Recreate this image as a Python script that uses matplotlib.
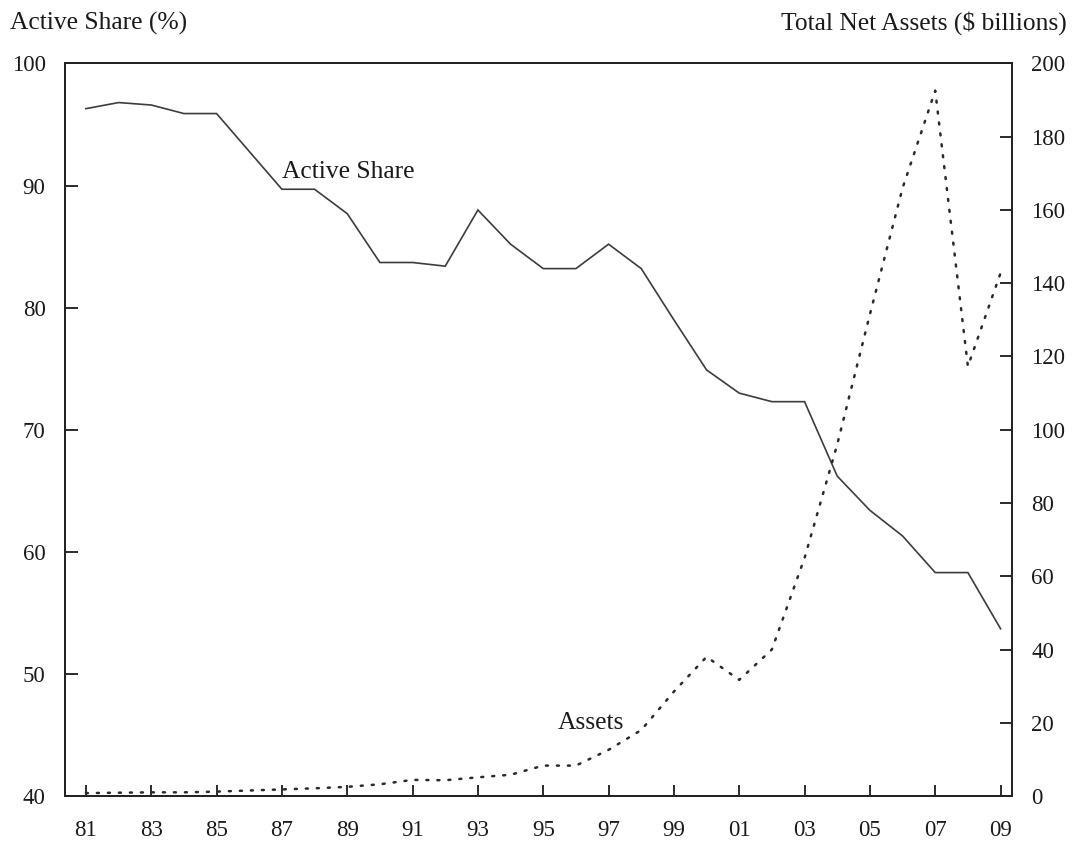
import matplotlib
matplotlib.use("Agg")
import matplotlib.pyplot as plt

plt.rcParams['font.family'] = ['Liberation Serif', 'DejaVu Serif']

years = list(range(1981, 2010))
active_share = [96.3, 96.8, 96.6, 95.9, 95.9, 92.8, 89.7, 89.7, 87.7, 83.7,
                83.7, 83.4, 88.0, 85.2, 83.2, 83.2, 85.2, 83.2, 79.0, 74.9,
                73.0, 72.3, 72.3, 66.2, 63.4, 61.3, 58.3, 58.3, 53.7]
assets = [0.8, 0.9, 1.0, 1.0, 1.2, 1.5, 1.8, 2.1, 2.5, 3.2,
          4.4, 4.3, 5.1, 5.8, 8.3, 8.3, 12.6, 18.0, 28.5, 38.0,
          31.7, 40.0, 65.0, 96.0, 131.5, 166.0, 192.6, 117.3, 142.8]
xtick_years = list(range(1981, 2010, 2))
xtick_labels = [f"{y % 100:02d}" for y in xtick_years]
left_ticks = [40, 50, 60, 70, 80, 90, 100]
right_ticks = [0, 20, 40, 60, 80, 100, 120, 140, 160, 180, 200]

txt = '#1a1a1a'
fs = 16.5
fs_text = 18.4

fig = plt.figure(figsize=(10.74, 8.41), dpi=100)
ax = fig.add_axes([65/1074, 1 - 796/841, (1012-65)/1074, (796-63.5)/841])
ax2 = ax.twinx()

ax.plot(years, active_share, color='#3c3c3c', lw=1.2, solid_joinstyle='miter')
ax2.plot(years, assets, color='#2a2a2a', lw=1.8, linestyle=(0, (0.8, 3.6)),
         dash_capstyle='round')

ax.set_xlim(1980.36, 2009.35)
ax.set_ylim(40, 100)
ax2.set_ylim(0, 200)

ax.set_xticks(xtick_years)
ax.set_xticklabels(xtick_labels)
ax.set_yticks(left_ticks)
ax2.set_yticks(right_ticks)

for a in (ax, ax2):
    for s in a.spines.values():
        s.set_linewidth(1.3)
        s.set_color('#222222')

ax.tick_params(axis='x', direction='in', length=8, width=1.3, pad=17,
               labelsize=fs, colors=txt, top=False)
ax.tick_params(axis='y', direction='in', length=9, width=1.3, pad=14,
               labelsize=fs, colors=txt)
ax2.tick_params(axis='y', direction='in', length=9, width=1.3, pad=14,
                labelsize=fs, colors=txt)

ax.text(1987.0, 91.1, 'Active Share', fontsize=fs_text, color=txt,
        ha='left', va='center')
ax2.text(1995.45, 19.8, 'Assets', fontsize=fs_text, color=txt,
         ha='left', va='center')

fig.text(10/1074, 1 - 23/841, 'Active Share (%)', fontsize=fs_text, color=txt,
         ha='left', va='center')
fig.text(1067/1074, 1 - 23/841, 'Total Net Assets ($ billions)', fontsize=fs_text,
         color=txt, ha='right', va='center')

fig.savefig('out.png', dpi=100)
